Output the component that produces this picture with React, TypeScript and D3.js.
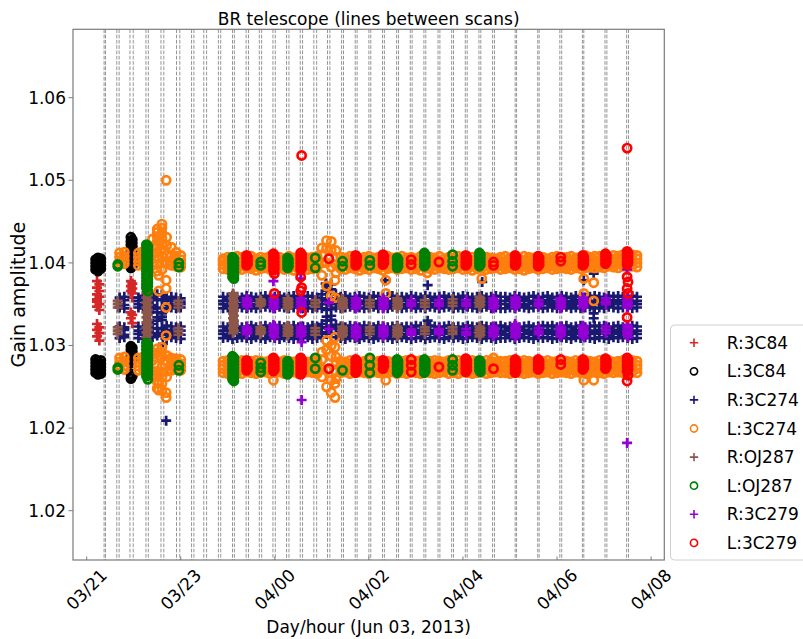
import React, { useMemo } from "react";
import * as d3 from "d3";

const W = 803;
const H = 639;

const xTickValues = [0, 2, 4, 6, 8, 10, 12];
const xTickLabels = ["03/21", "03/23", "04/00", "04/02", "04/04", "04/06", "04/08"];
const yTickValues = [1.01, 1.02, 1.03, 1.04, 1.05, 1.06];
const yTickLabels = ["1.02", "1.02", "1.03", "1.04", "1.05", "1.06"];

// scan boundary times (hours)
const scanEdges = [0.37, 0.40, 0.64, 0.69, 0.92, 0.99, 1.26, 1.31, 1.58, 1.64, 1.91, 1.98, 2.23, 2.28, 2.49, 2.55,
  2.80, 2.85, 3.10, 3.14, 3.39, 3.44, 3.67, 3.72, 3.96, 4.01, 4.25, 4.30, 4.54, 4.59, 4.83, 4.89, 5.12, 5.17,
  5.42, 5.46, 5.71, 5.75, 6.00, 6.04, 6.29, 6.33, 6.59, 6.63, 6.88, 6.92, 7.17, 7.21, 7.47, 7.51, 7.76, 7.80,
  8.05, 8.09, 8.34, 8.38, 8.63, 8.67, 9.11, 9.14, 9.59, 9.62, 10.06, 10.10, 10.54, 10.57, 11.02, 11.06, 11.48, 11.52];

// 3C274 sampling times (hours)
const bandTimes = [0.7, 0.8, 0.9, 1.0, 1.1, 1.2, 1.3, 1.4, 1.5, 1.6, 1.7, 1.8, 1.9, 2.0,
  2.9, 3.0, 3.1, 3.2, 3.3, 3.4, 3.5, 3.6, 3.7, 3.8,
  3.9, 4.0, 4.1, 4.2, 4.3, 4.4, 4.5, 4.6, 4.7, 4.8,
  4.9, 5.0, 5.1, 5.2, 5.3, 5.4, 5.5, 5.6, 5.7, 5.8,
  5.9, 6.0, 6.1, 6.2, 6.3, 6.4, 6.5, 6.6, 6.7, 6.8,
  6.9, 7.0, 7.1, 7.2, 7.3, 7.4, 7.5, 7.6, 7.7, 7.8,
  7.9, 8.0, 8.1, 8.2, 8.3, 8.4, 8.5, 8.6, 8.7, 8.8,
  8.9, 9.0, 9.1, 9.2, 9.3, 9.4, 9.5, 9.6, 9.7, 9.8,
  9.9, 10.0, 10.1, 10.2, 10.3, 10.4, 10.5, 10.6, 10.7, 10.8,
  10.9, 11.0, 11.1, 11.2, 11.3, 11.4, 11.5, 11.6, 11.7];

// L:3C274, upper window, four channels
const l3c274Hi1 = [1.0412, 1.0413, null, null, 1.0412, 1.0414, 1.0417, 1.0429, 1.0441, 1.0447, 1.0431, 1.0419, 1.0413, 1.0409,
  1.0405, 1.0407, 1.0406, 1.0408, 1.0407, 1.0406, 1.0408, 1.0405, 1.0407, 1.0406,
  1.0408, 1.0406, 1.0407, 1.0405, 1.0408, 1.0406, 1.0407, 1.0408, 1.0406, 1.0407,
  1.0408, 1.0418, 1.0427, 1.0426, 1.0415, 1.0407, 1.0406, 1.0408, 1.0407, 1.0405,
  1.0407, 1.0408, 1.0406, 1.0407, 1.0405, 1.0408, 1.0406, 1.0407, 1.0408, 1.0406,
  1.0407, 1.0405, 1.0408, 1.0406, 1.0407, 1.0406, 1.0408, 1.0405, 1.0407, 1.0406,
  1.0408, 1.0407, 1.0405, 1.0407, 1.0406, 1.0408, 1.0407, 1.0406, 1.0405, 1.0407,
  1.0408, 1.0406, 1.0407, 1.0405, 1.0408, 1.0407, 1.0406, 1.0408, 1.0407, 1.0405,
  1.0407, 1.0408, 1.0406, 1.0407, 1.0408, 1.0406, 1.0407, 1.0409, 1.0407, 1.0408,
  1.0408, 1.0409, 1.0407, 1.0409, 1.0408, 1.0410, 1.0409, 1.0410, 1.0409];
const l3c274Hi2 = [1.0407, 1.0408, null, null, 1.0407, 1.0409, 1.0410, 1.0420, 1.0432, 1.0436, 1.0421, 1.0409, 1.0408, 1.0404,
  1.0402, 1.0401, 1.0403, 1.0402, 1.0401, 1.0403, 1.0402, 1.0401, 1.0403, 1.0402,
  1.0401, 1.0403, 1.0402, 1.0401, 1.0402, 1.0403, 1.0401, 1.0402, 1.0403, 1.0401,
  1.0402, 1.0410, 1.0418, 1.0416, 1.0407, 1.0402, 1.0401, 1.0403, 1.0402, 1.0401,
  1.0402, 1.0403, 1.0401, 1.0402, 1.0403, 1.0401, 1.0402, 1.0401, 1.0403, 1.0402,
  1.0401, 1.0403, 1.0402, 1.0401, 1.0403, 1.0402, 1.0401, 1.0402, 1.0403, 1.0401,
  1.0402, 1.0403, 1.0401, 1.0402, 1.0401, 1.0403, 1.0402, 1.0401, 1.0403, 1.0402,
  1.0401, 1.0402, 1.0403, 1.0401, 1.0402, 1.0403, 1.0401, 1.0402, 1.0403, 1.0402,
  1.0403, 1.0402, 1.0401, 1.0403, 1.0402, 1.0403, 1.0402, 1.0403, 1.0404, 1.0402,
  1.0403, 1.0404, 1.0403, 1.0404, 1.0405, 1.0404, 1.0405, 1.0404, 1.0405];
const l3c274Hi3 = [1.0402, 1.0403, null, null, 1.0402, 1.0403, 1.0401, 1.0410, 1.0420, 1.0422, 1.0410, 1.0401, 1.0400, 1.0399,
  1.0398, 1.0397, 1.0399, 1.0398, 1.0397, 1.0399, 1.0398, 1.0396, 1.0398, 1.0399,
  1.0397, 1.0398, 1.0399, 1.0397, 1.0398, 1.0397, 1.0398, 1.0399, 1.0397, 1.0398,
  1.0399, 1.0400, 1.0400, 1.0395, 1.0398, 1.0398, 1.0397, 1.0399, 1.0398, 1.0397,
  1.0398, 1.0397, 1.0399, 1.0398, 1.0397, 1.0398, 1.0399, 1.0397, 1.0398, 1.0399,
  1.0397, 1.0398, 1.0397, 1.0399, 1.0398, 1.0397, 1.0399, 1.0398, 1.0397, 1.0398,
  1.0399, 1.0397, 1.0398, 1.0397, 1.0398, 1.0399, 1.0397, 1.0398, 1.0399, 1.0397,
  1.0398, 1.0399, 1.0397, 1.0398, 1.0397, 1.0398, 1.0399, 1.0397, 1.0398, 1.0399,
  1.0397, 1.0398, 1.0399, 1.0398, 1.0397, 1.0399, 1.0398, 1.0399, 1.0400, 1.0399,
  1.0400, 1.0399, 1.0401, 1.0400, 1.0399, 1.0401, 1.0400, 1.0401, 1.0400];
const l3c274Hi4 = [1.0398, 1.0399, null, null, 1.0397, 1.0398, 1.0396, 1.0400, 1.0405, 1.0408, 1.0399, 1.0397, 1.0396, 1.0395,
  1.0393, 1.0392, 1.0394, 1.0393, 1.0392, 1.0394, 1.0393, 1.0391, 1.0393, 1.0394,
  1.0392, 1.0393, 1.0394, 1.0392, 1.0393, 1.0391, 1.0393, 1.0394, 1.0392, 1.0393,
  1.0394, 1.0385, 1.0372, 1.0360, 1.0388, 1.0393, 1.0392, 1.0394, 1.0393, 1.0391,
  1.0393, 1.0392, 1.0394, 1.0393, 1.0391, 1.0393, 1.0394, 1.0392, 1.0393, 1.0394,
  1.0392, 1.0393, 1.0391, 1.0394, 1.0393, 1.0392, 1.0394, 1.0393, 1.0392, 1.0393,
  1.0394, 1.0392, 1.0393, 1.0391, 1.0393, 1.0394, 1.0392, 1.0393, 1.0394, 1.0392,
  1.0393, 1.0394, 1.0392, 1.0393, 1.0391, 1.0393, 1.0394, 1.0392, 1.0393, 1.0394,
  1.0392, 1.0393, 1.0394, 1.0393, 1.0392, 1.0394, 1.0393, 1.0394, 1.0395, 1.0394,
  1.0395, 1.0394, 1.0396, 1.0395, 1.0394, 1.0396, 1.0395, 1.0396, 1.0395];

// L:3C274, lower window, four channels
const l3c274Lo1 = [1.0285, 1.0286, null, null, 1.0285, 1.0286, 1.0284, 1.0290, 1.0296, 1.0298, 1.0288, 1.0285, 1.0284, 1.0283,
  1.0281, 1.0282, 1.0280, 1.0281, 1.0282, 1.0280, 1.0281, 1.0282, 1.0281, 1.0280,
  1.0282, 1.0281, 1.0280, 1.0282, 1.0281, 1.0280, 1.0282, 1.0281, 1.0280, 1.0281,
  1.0282, 1.0292, 1.0306, 1.0300, 1.0286, 1.0281, 1.0280, 1.0282, 1.0281, 1.0280,
  1.0281, 1.0282, 1.0280, 1.0281, 1.0282, 1.0281, 1.0280, 1.0282, 1.0281, 1.0282,
  1.0280, 1.0281, 1.0282, 1.0280, 1.0281, 1.0282, 1.0281, 1.0280, 1.0282, 1.0281,
  1.0282, 1.0280, 1.0281, 1.0282, 1.0281, 1.0280, 1.0282, 1.0281, 1.0280, 1.0281,
  1.0281, 1.0282, 1.0280, 1.0281, 1.0282, 1.0281, 1.0280, 1.0282, 1.0281, 1.0282,
  1.0280, 1.0281, 1.0282, 1.0281, 1.0280, 1.0282, 1.0281, 1.0282, 1.0281, 1.0280,
  1.0282, 1.0281, 1.0282, 1.0280, 1.0281, 1.0282, 1.0281, 1.0282, 1.0281];
const l3c274Lo2 = [1.0280, 1.0281, null, null, 1.0280, 1.0281, 1.0279, 1.0282, 1.0285, 1.0286, 1.0281, 1.0280, 1.0279, 1.0278,
  1.0276, 1.0277, 1.0275, 1.0276, 1.0277, 1.0275, 1.0276, 1.0277, 1.0276, 1.0275,
  1.0277, 1.0276, 1.0275, 1.0277, 1.0276, 1.0275, 1.0277, 1.0276, 1.0275, 1.0276,
  1.0277, 1.0283, 1.0295, 1.0287, 1.0280, 1.0276, 1.0275, 1.0277, 1.0276, 1.0275,
  1.0276, 1.0277, 1.0275, 1.0276, 1.0277, 1.0276, 1.0275, 1.0277, 1.0276, 1.0277,
  1.0275, 1.0276, 1.0277, 1.0275, 1.0276, 1.0277, 1.0276, 1.0275, 1.0277, 1.0276,
  1.0277, 1.0275, 1.0276, 1.0277, 1.0276, 1.0275, 1.0277, 1.0276, 1.0275, 1.0276,
  1.0276, 1.0277, 1.0275, 1.0276, 1.0277, 1.0276, 1.0275, 1.0277, 1.0276, 1.0277,
  1.0275, 1.0276, 1.0277, 1.0276, 1.0275, 1.0277, 1.0276, 1.0277, 1.0276, 1.0275,
  1.0277, 1.0276, 1.0277, 1.0275, 1.0276, 1.0277, 1.0276, 1.0277, 1.0276];
const l3c274Lo3 = [1.0276, 1.0275, null, null, 1.0275, 1.0276, 1.0273, 1.0268, 1.0264, 1.0262, 1.0269, 1.0275, 1.0276, 1.0275,
  1.0272, 1.0271, 1.0273, 1.0272, 1.0271, 1.0273, 1.0272, 1.0271, 1.0272, 1.0273,
  1.0271, 1.0272, 1.0273, 1.0271, 1.0272, 1.0273, 1.0271, 1.0272, 1.0273, 1.0272,
  1.0271, 1.0272, 1.0270, 1.0258, 1.0268, 1.0272, 1.0273, 1.0271, 1.0272, 1.0273,
  1.0272, 1.0271, 1.0273, 1.0272, 1.0271, 1.0272, 1.0273, 1.0271, 1.0272, 1.0271,
  1.0273, 1.0272, 1.0271, 1.0273, 1.0272, 1.0271, 1.0272, 1.0273, 1.0271, 1.0272,
  1.0271, 1.0273, 1.0272, 1.0271, 1.0272, 1.0273, 1.0271, 1.0272, 1.0273, 1.0272,
  1.0272, 1.0271, 1.0273, 1.0272, 1.0271, 1.0272, 1.0273, 1.0271, 1.0272, 1.0273,
  1.0271, 1.0272, 1.0273, 1.0272, 1.0271, 1.0273, 1.0272, 1.0271, 1.0272, 1.0273,
  1.0272, 1.0271, 1.0273, 1.0272, 1.0273, 1.0272, 1.0271, 1.0273, 1.0272];
const l3c274Lo4 = [1.0272, 1.0271, null, null, 1.0270, 1.0271, 1.0268, 1.0262, 1.0256, 1.0254, 1.0262, 1.0270, 1.0271, 1.0270,
  1.0267, 1.0266, 1.0268, 1.0267, 1.0266, 1.0268, 1.0267, 1.0266, 1.0267, 1.0268,
  1.0266, 1.0267, 1.0268, 1.0266, 1.0267, 1.0268, 1.0266, 1.0267, 1.0268, 1.0267,
  1.0266, 1.0262, 1.0250, 1.0243, 1.0260, 1.0267, 1.0268, 1.0266, 1.0267, 1.0268,
  1.0267, 1.0266, 1.0268, 1.0267, 1.0266, 1.0267, 1.0268, 1.0266, 1.0267, 1.0266,
  1.0268, 1.0267, 1.0266, 1.0268, 1.0267, 1.0266, 1.0267, 1.0268, 1.0266, 1.0267,
  1.0266, 1.0268, 1.0267, 1.0266, 1.0267, 1.0268, 1.0266, 1.0267, 1.0268, 1.0267,
  1.0267, 1.0266, 1.0268, 1.0267, 1.0266, 1.0267, 1.0268, 1.0266, 1.0267, 1.0268,
  1.0266, 1.0267, 1.0268, 1.0267, 1.0266, 1.0268, 1.0267, 1.0266, 1.0267, 1.0268,
  1.0267, 1.0266, 1.0268, 1.0267, 1.0268, 1.0267, 1.0266, 1.0268, 1.0267];

// R:3C274, upper window, four channels
const r3c274Hi1 = [1.0358, 1.0359, null, null, 1.0358, 1.0360, 1.0358, 1.0359, 1.0362, 1.0361, 1.0358, 1.0359, 1.0358, 1.0357,
  1.0359, 1.0358, 1.0360, 1.0359, 1.0358, 1.0360, 1.0359, 1.0358, 1.0359, 1.0360,
  1.0358, 1.0359, 1.0360, 1.0358, 1.0359, 1.0360, 1.0358, 1.0359, 1.0360, 1.0359,
  1.0358, 1.0362, 1.0372, 1.0374, 1.0362, 1.0359, 1.0360, 1.0358, 1.0359, 1.0360,
  1.0359, 1.0358, 1.0360, 1.0359, 1.0358, 1.0359, 1.0360, 1.0358, 1.0359, 1.0358,
  1.0360, 1.0359, 1.0358, 1.0360, 1.0359, 1.0358, 1.0359, 1.0360, 1.0358, 1.0359,
  1.0358, 1.0360, 1.0359, 1.0358, 1.0359, 1.0360, 1.0358, 1.0359, 1.0360, 1.0359,
  1.0359, 1.0358, 1.0360, 1.0359, 1.0358, 1.0359, 1.0360, 1.0358, 1.0359, 1.0360,
  1.0358, 1.0359, 1.0360, 1.0359, 1.0358, 1.0360, 1.0359, 1.0358, 1.0359, 1.0360,
  1.0359, 1.0358, 1.0360, 1.0359, 1.0360, 1.0359, 1.0358, 1.0360, 1.0359];
const r3c274Hi2 = [1.0354, 1.0355, null, null, 1.0354, 1.0355, 1.0354, 1.0355, 1.0356, 1.0355, 1.0354, 1.0355, 1.0354, 1.0353,
  1.0354, 1.0355, 1.0353, 1.0354, 1.0355, 1.0353, 1.0354, 1.0355, 1.0354, 1.0353,
  1.0355, 1.0354, 1.0353, 1.0355, 1.0354, 1.0353, 1.0355, 1.0354, 1.0353, 1.0354,
  1.0355, 1.0357, 1.0366, 1.0368, 1.0357, 1.0354, 1.0353, 1.0355, 1.0354, 1.0353,
  1.0354, 1.0355, 1.0353, 1.0354, 1.0355, 1.0354, 1.0353, 1.0355, 1.0354, 1.0355,
  1.0353, 1.0354, 1.0355, 1.0353, 1.0354, 1.0355, 1.0354, 1.0353, 1.0355, 1.0354,
  1.0355, 1.0353, 1.0354, 1.0355, 1.0354, 1.0353, 1.0355, 1.0354, 1.0353, 1.0354,
  1.0354, 1.0355, 1.0353, 1.0354, 1.0355, 1.0354, 1.0353, 1.0355, 1.0354, 1.0355,
  1.0353, 1.0354, 1.0355, 1.0354, 1.0353, 1.0355, 1.0354, 1.0355, 1.0354, 1.0353,
  1.0355, 1.0354, 1.0353, 1.0355, 1.0354, 1.0355, 1.0354, 1.0353, 1.0354];
const r3c274Hi3 = [1.0350, 1.0349, null, null, 1.0350, 1.0349, 1.0350, 1.0349, 1.0346, 1.0345, 1.0349, 1.0350, 1.0349, 1.0350,
  1.0350, 1.0349, 1.0351, 1.0350, 1.0349, 1.0351, 1.0350, 1.0349, 1.0350, 1.0351,
  1.0349, 1.0350, 1.0351, 1.0349, 1.0350, 1.0351, 1.0349, 1.0350, 1.0351, 1.0350,
  1.0349, 1.0350, 1.0354, 1.0356, 1.0350, 1.0350, 1.0351, 1.0349, 1.0350, 1.0351,
  1.0350, 1.0349, 1.0351, 1.0350, 1.0349, 1.0350, 1.0351, 1.0349, 1.0350, 1.0349,
  1.0351, 1.0350, 1.0349, 1.0351, 1.0350, 1.0349, 1.0350, 1.0351, 1.0349, 1.0350,
  1.0349, 1.0351, 1.0350, 1.0349, 1.0350, 1.0351, 1.0349, 1.0350, 1.0351, 1.0350,
  1.0350, 1.0349, 1.0351, 1.0350, 1.0349, 1.0350, 1.0351, 1.0349, 1.0350, 1.0351,
  1.0349, 1.0350, 1.0351, 1.0350, 1.0349, 1.0351, 1.0350, 1.0349, 1.0350, 1.0351,
  1.0350, 1.0349, 1.0351, 1.0350, 1.0351, 1.0350, 1.0349, 1.0351, 1.0350];
const r3c274Hi4 = [1.0346, 1.0345, null, null, 1.0346, 1.0345, 1.0346, 1.0344, 1.0340, 1.0339, 1.0345, 1.0346, 1.0345, 1.0346,
  1.0345, 1.0346, 1.0345, 1.0347, 1.0346, 1.0345, 1.0346, 1.0345, 1.0346, 1.0347,
  1.0346, 1.0345, 1.0347, 1.0346, 1.0345, 1.0346, 1.0347, 1.0345, 1.0346, 1.0345,
  1.0346, 1.0345, 1.0343, 1.0344, 1.0346, 1.0345, 1.0346, 1.0347, 1.0345, 1.0346,
  1.0345, 1.0346, 1.0347, 1.0345, 1.0346, 1.0345, 1.0347, 1.0346, 1.0345, 1.0346,
  1.0347, 1.0345, 1.0346, 1.0345, 1.0347, 1.0346, 1.0345, 1.0346, 1.0347, 1.0345,
  1.0346, 1.0345, 1.0347, 1.0346, 1.0345, 1.0346, 1.0347, 1.0345, 1.0346, 1.0345,
  1.0345, 1.0346, 1.0345, 1.0347, 1.0346, 1.0345, 1.0346, 1.0347, 1.0345, 1.0346,
  1.0346, 1.0345, 1.0346, 1.0347, 1.0345, 1.0346, 1.0345, 1.0346, 1.0347, 1.0345,
  1.0346, 1.0345, 1.0347, 1.0346, 1.0345, 1.0346, 1.0347, 1.0345, 1.0346];

// R:3C274, lower window, four channels
const r3c274Lo1 = [1.0323, 1.0322, null, null, 1.0323, 1.0322, 1.0323, 1.0326, 1.0334, 1.0335, 1.0324, 1.0323, 1.0322, 1.0323,
  1.0323, 1.0322, 1.0324, 1.0323, 1.0322, 1.0323, 1.0324, 1.0322, 1.0323, 1.0324,
  1.0322, 1.0323, 1.0324, 1.0322, 1.0323, 1.0324, 1.0322, 1.0323, 1.0322, 1.0324,
  1.0323, 1.0326, 1.0335, 1.0336, 1.0325, 1.0323, 1.0322, 1.0324, 1.0323, 1.0322,
  1.0324, 1.0323, 1.0322, 1.0324, 1.0323, 1.0322, 1.0323, 1.0324, 1.0322, 1.0323,
  1.0322, 1.0324, 1.0323, 1.0322, 1.0324, 1.0323, 1.0322, 1.0323, 1.0324, 1.0322,
  1.0323, 1.0322, 1.0324, 1.0323, 1.0322, 1.0324, 1.0323, 1.0322, 1.0323, 1.0324,
  1.0322, 1.0323, 1.0324, 1.0322, 1.0323, 1.0324, 1.0322, 1.0323, 1.0324, 1.0323,
  1.0324, 1.0322, 1.0323, 1.0324, 1.0322, 1.0323, 1.0324, 1.0322, 1.0323, 1.0324,
  1.0323, 1.0324, 1.0322, 1.0323, 1.0324, 1.0322, 1.0323, 1.0324, 1.0323];
const r3c274Lo2 = [1.0318, 1.0319, null, null, 1.0318, 1.0317, 1.0318, 1.0321, 1.0330, 1.0331, 1.0319, 1.0318, 1.0317, 1.0318,
  1.0318, 1.0319, 1.0317, 1.0318, 1.0319, 1.0318, 1.0317, 1.0319, 1.0318, 1.0317,
  1.0319, 1.0318, 1.0317, 1.0319, 1.0318, 1.0317, 1.0319, 1.0318, 1.0319, 1.0317,
  1.0318, 1.0321, 1.0330, 1.0331, 1.0320, 1.0318, 1.0317, 1.0319, 1.0318, 1.0317,
  1.0319, 1.0318, 1.0317, 1.0319, 1.0318, 1.0319, 1.0317, 1.0318, 1.0319, 1.0318,
  1.0317, 1.0318, 1.0319, 1.0317, 1.0318, 1.0319, 1.0318, 1.0317, 1.0319, 1.0318,
  1.0319, 1.0317, 1.0318, 1.0319, 1.0318, 1.0317, 1.0319, 1.0318, 1.0317, 1.0318,
  1.0318, 1.0319, 1.0317, 1.0318, 1.0319, 1.0318, 1.0317, 1.0319, 1.0318, 1.0319,
  1.0317, 1.0318, 1.0319, 1.0318, 1.0317, 1.0319, 1.0318, 1.0319, 1.0318, 1.0317,
  1.0319, 1.0318, 1.0317, 1.0319, 1.0318, 1.0319, 1.0318, 1.0317, 1.0318];
const r3c274Lo3 = [1.0314, 1.0313, null, null, 1.0314, 1.0313, 1.0314, 1.0315, 1.0320, 1.0321, 1.0314, 1.0313, 1.0314, 1.0313,
  1.0314, 1.0313, 1.0315, 1.0314, 1.0313, 1.0314, 1.0315, 1.0313, 1.0314, 1.0315,
  1.0313, 1.0314, 1.0315, 1.0313, 1.0314, 1.0315, 1.0313, 1.0314, 1.0313, 1.0315,
  1.0314, 1.0316, 1.0322, 1.0323, 1.0315, 1.0314, 1.0313, 1.0315, 1.0314, 1.0313,
  1.0315, 1.0314, 1.0313, 1.0315, 1.0314, 1.0313, 1.0314, 1.0315, 1.0313, 1.0314,
  1.0313, 1.0315, 1.0314, 1.0313, 1.0315, 1.0314, 1.0313, 1.0314, 1.0315, 1.0313,
  1.0314, 1.0313, 1.0315, 1.0314, 1.0313, 1.0315, 1.0314, 1.0313, 1.0314, 1.0315,
  1.0313, 1.0314, 1.0315, 1.0313, 1.0314, 1.0315, 1.0313, 1.0314, 1.0315, 1.0314,
  1.0315, 1.0313, 1.0314, 1.0315, 1.0313, 1.0314, 1.0315, 1.0313, 1.0314, 1.0315,
  1.0314, 1.0315, 1.0313, 1.0314, 1.0315, 1.0313, 1.0314, 1.0315, 1.0314];
const r3c274Lo4 = [1.0309, 1.0310, null, null, 1.0309, 1.0308, 1.0309, 1.0310, 1.0312, 1.0313, 1.0309, 1.0310, 1.0309, 1.0308,
  1.0309, 1.0310, 1.0308, 1.0309, 1.0310, 1.0309, 1.0308, 1.0310, 1.0309, 1.0308,
  1.0310, 1.0309, 1.0308, 1.0310, 1.0309, 1.0308, 1.0310, 1.0309, 1.0310, 1.0308,
  1.0309, 1.0310, 1.0314, 1.0315, 1.0310, 1.0309, 1.0308, 1.0310, 1.0309, 1.0308,
  1.0310, 1.0309, 1.0308, 1.0310, 1.0309, 1.0310, 1.0308, 1.0309, 1.0310, 1.0309,
  1.0308, 1.0309, 1.0310, 1.0308, 1.0309, 1.0310, 1.0309, 1.0308, 1.0310, 1.0309,
  1.0310, 1.0308, 1.0309, 1.0310, 1.0309, 1.0308, 1.0310, 1.0309, 1.0308, 1.0309,
  1.0309, 1.0310, 1.0308, 1.0309, 1.0310, 1.0309, 1.0308, 1.0310, 1.0309, 1.0310,
  1.0308, 1.0309, 1.0310, 1.0309, 1.0308, 1.0310, 1.0309, 1.0310, 1.0309, 1.0308,
  1.0310, 1.0309, 1.0308, 1.0310, 1.0309, 1.0310, 1.0309, 1.0308, 1.0309];

type Scan = [number, number[]];

const r3c84Scans: Scan[] = [
  [0.22, [1.0378, 1.0370, 1.0362, 1.0356, 1.0353, 1.0347, 1.0326, 1.0319, 1.0311]],
  [0.27, [1.0374, 1.0366, 1.0359, 1.0350, 1.0343, 1.0322, 1.0315, 1.0306]],
  [0.94, [1.0378, 1.0372, 1.0366, 1.0340, 1.0333]],
  [0.97, [1.0375, 1.0369, 1.0363, 1.0358, 1.0337, 1.0327]],
];
const l3c84Scans: Scan[] = [
  [0.19, [1.0404, 1.0400, 1.0396, 1.0392, 1.0283, 1.0279, 1.0275, 1.0271, 1.0267]],
  [0.24, [1.0406, 1.0402, 1.0398, 1.0394, 1.0390, 1.0281, 1.0277, 1.0273, 1.0269, 1.0265]],
  [0.30, [1.0405, 1.0401, 1.0397, 1.0393, 1.0282, 1.0278, 1.0274, 1.0270, 1.0266]],
  [0.94, [1.0431, 1.0426, 1.0422, 1.0418, 1.0414, 1.0410, 1.0406, 1.0402, 1.0398, 1.0394,
    1.0299, 1.0295, 1.0291, 1.0287, 1.0283, 1.0279, 1.0266, 1.0260]],
  [0.97, [1.0428, 1.0424, 1.0420, 1.0416, 1.0412, 1.0408, 1.0404, 1.0400, 1.0396,
    1.0297, 1.0293, 1.0289, 1.0285, 1.0281, 1.0263]],
];
const r3c274Extra: Scan[] = [
  [1.52, [1.0315]], [1.62, [1.0302]], [1.69, [1.0209]], [5.08, [1.0375]], [6.35, [1.0379]],
  [7.25, [1.0373, 1.0330]], [8.41, [1.0377]], [10.57, [1.0379]], [10.78, [1.0387, 1.0339, 1.0333]],
];
const l3c274Extra: Scan[] = [
  [1.50, [1.0437, 1.0426, 1.0413, 1.0398, 1.0390, 1.0291, 1.0275, 1.0269, 1.0248]],
  [1.60, [1.0442, 1.0430, 1.0416, 1.0400, 1.0392, 1.0292, 1.0274, 1.0268, 1.0246]],
  [1.53, [1.0385, 1.0366, 1.0254, 1.0246]],
  [1.69, [1.0500, 1.0379, 1.0369, 1.0346, 1.0312, 1.0243, 1.0237]],
  [3.97, [1.0258]],
  [5.28, [1.0379, 1.0358, 1.0310, 1.0298, 1.0254, 1.0237]],
  [6.36, [1.0379, 1.0363, 1.0258]],
  [7.24, [1.0388]],
  [8.40, [1.0381]],
  [8.65, [1.0285]],
  [10.57, [1.0381, 1.0363, 1.0258]],
  [10.78, [1.0376, 1.0354, 1.0258]],
];
const rOJ287Scans: Scan[] = [
  [0.66, [1.0354, 1.0350, 1.0346, 1.0322, 1.0318, 1.0314]],
  [1.27, [1.0370, 1.0364, 1.0358, 1.0352, 1.0346, 1.0340, 1.0334, 1.0328, 1.0322, 1.0316, 1.0310]],
  [1.30, [1.0367, 1.0361, 1.0355, 1.0349, 1.0343, 1.0337, 1.0331, 1.0325, 1.0319, 1.0313]],
  [1.95, [1.0354, 1.0350, 1.0346, 1.0321, 1.0317, 1.0313]],
  [3.11, [1.0363, 1.0357, 1.0351, 1.0345, 1.0339, 1.0333, 1.0327, 1.0321, 1.0315]],
  [3.13, [1.0360, 1.0354, 1.0348, 1.0342, 1.0336, 1.0330, 1.0324, 1.0318]],
  [3.69, [1.0356, 1.0352, 1.0348, 1.0322, 1.0318, 1.0314]],
  [3.71, [1.0354, 1.0350, 1.0320, 1.0316]],
  [4.27, [1.0357, 1.0353, 1.0349, 1.0345, 1.0324, 1.0320, 1.0316, 1.0312]],
  [4.29, [1.0355, 1.0351, 1.0347, 1.0322, 1.0318, 1.0314]],
  [4.86, [1.0355, 1.0351, 1.0347, 1.0321, 1.0317, 1.0313]],
  [5.43, [1.0357, 1.0353, 1.0349, 1.0345, 1.0323, 1.0319, 1.0315, 1.0311]],
  [5.45, [1.0355, 1.0351, 1.0347, 1.0321, 1.0317, 1.0313]],
  [6.02, [1.0355, 1.0351, 1.0347, 1.0322, 1.0318, 1.0314]],
  [6.60, [1.0357, 1.0353, 1.0349, 1.0345, 1.0323, 1.0319, 1.0315, 1.0311]],
  [6.62, [1.0355, 1.0351, 1.0347, 1.0321, 1.0317, 1.0313]],
  [7.19, [1.0355, 1.0351, 1.0347, 1.0322, 1.0318, 1.0314]],
  [7.78, [1.0356, 1.0352, 1.0348, 1.0322, 1.0318, 1.0314]],
  [8.35, [1.0359, 1.0355, 1.0351, 1.0347, 1.0323, 1.0319, 1.0315, 1.0311]],
  [8.37, [1.0357, 1.0353, 1.0349, 1.0321, 1.0317, 1.0313]],
];
const lOJ287Scans: Scan[] = [
  [0.66, [1.0398, 1.0396, 1.0273, 1.0271]],
  [1.27, [1.0422, 1.0418, 1.0414, 1.0410, 1.0406, 1.0402, 1.0398, 1.0394, 1.0390, 1.0386, 1.0382, 1.0378, 1.0374, 1.0370,
    1.0303, 1.0299, 1.0295, 1.0291, 1.0287, 1.0283, 1.0279, 1.0275, 1.0271, 1.0267, 1.0263]],
  [1.30, [1.0420, 1.0416, 1.0412, 1.0408, 1.0404, 1.0400, 1.0396, 1.0392, 1.0388, 1.0384, 1.0380, 1.0376, 1.0372, 1.0366,
    1.0301, 1.0297, 1.0293, 1.0289, 1.0285, 1.0281, 1.0277, 1.0273, 1.0269, 1.0265, 1.0259]],
  [1.96, [1.0400, 1.0395, 1.0276, 1.0270]],
  [3.10, [1.0407, 1.0403, 1.0399, 1.0395, 1.0391, 1.0387, 1.0383, 1.0287, 1.0283, 1.0279, 1.0275, 1.0271, 1.0267, 1.0263, 1.0259]],
  [3.13, [1.0405, 1.0401, 1.0397, 1.0393, 1.0389, 1.0385, 1.0381, 1.0285, 1.0281, 1.0277, 1.0273, 1.0269, 1.0265, 1.0261, 1.0257]],
  [3.70, [1.0401, 1.0397, 1.0279, 1.0273, 1.0268]],
  [4.27, [1.0406, 1.0402, 1.0398, 1.0394, 1.0281, 1.0277, 1.0273, 1.0269, 1.0265]],
  [4.29, [1.0404, 1.0400, 1.0396, 1.0279, 1.0275, 1.0271, 1.0267]],
  [4.86, [1.0406, 1.0394, 1.0285, 1.0272]],
  [5.44, [1.0402, 1.0396, 1.0270]],
  [6.02, [1.0403, 1.0397, 1.0285, 1.0276, 1.0267]],
  [6.60, [1.0406, 1.0402, 1.0398, 1.0394, 1.0283, 1.0279, 1.0275, 1.0271, 1.0267]],
  [6.62, [1.0404, 1.0400, 1.0396, 1.0281, 1.0277, 1.0273, 1.0269]],
  [7.18, [1.0412, 1.0408, 1.0404, 1.0400, 1.0396, 1.0283, 1.0279, 1.0275, 1.0271, 1.0267]],
  [7.20, [1.0410, 1.0406, 1.0402, 1.0398, 1.0281, 1.0277, 1.0273, 1.0269]],
  [7.78, [1.0410, 1.0402, 1.0396, 1.0283, 1.0276, 1.0270]],
  [8.35, [1.0412, 1.0408, 1.0404, 1.0400, 1.0396, 1.0282, 1.0278, 1.0274, 1.0270]],
  [8.37, [1.0410, 1.0406, 1.0402, 1.0398, 1.0280, 1.0276, 1.0272, 1.0268]],
];
const r3c279Scans: Scan[] = [
  [3.40, [1.0357, 1.0353, 1.0349, 1.0322, 1.0318, 1.0314]],
  [3.42, [1.0355, 1.0351, 1.0347, 1.0320, 1.0316]],
  [3.97, [1.0378, 1.0357, 1.0353, 1.0349, 1.0345, 1.0325, 1.0321, 1.0317, 1.0313]],
  [3.99, [1.0355, 1.0351, 1.0347, 1.0323, 1.0319, 1.0315, 1.0310]],
  [4.55, [1.0381, 1.0357, 1.0353, 1.0349, 1.0345, 1.0323, 1.0319, 1.0315, 1.0311]],
  [4.57, [1.0355, 1.0351, 1.0347, 1.0321, 1.0317, 1.0313, 1.0304, 1.0234]],
  [5.15, [1.0352, 1.0320]],
  [5.72, [1.0357, 1.0353, 1.0349, 1.0345, 1.0323, 1.0319, 1.0315, 1.0311]],
  [5.74, [1.0355, 1.0351, 1.0347, 1.0321, 1.0317, 1.0313, 1.0310]],
  [6.30, [1.0357, 1.0353, 1.0349, 1.0345, 1.0323, 1.0319, 1.0315, 1.0311]],
  [6.32, [1.0355, 1.0351, 1.0347, 1.0321, 1.0317, 1.0313]],
  [6.90, [1.0355, 1.0351, 1.0348, 1.0319, 1.0316, 1.0313]],
  [7.49, [1.0355, 1.0351, 1.0348, 1.0320, 1.0317, 1.0314]],
  [8.07, [1.0355, 1.0351, 1.0348, 1.0320, 1.0316, 1.0313]],
  [8.64, [1.0357, 1.0353, 1.0349, 1.0345, 1.0323, 1.0319, 1.0315, 1.0311]],
  [8.66, [1.0355, 1.0351, 1.0347, 1.0321, 1.0317, 1.0313]],
  [9.11, [1.0358, 1.0354, 1.0350, 1.0346, 1.0326, 1.0322, 1.0318, 1.0314, 1.0310]],
  [9.13, [1.0356, 1.0352, 1.0348, 1.0324, 1.0320, 1.0316, 1.0312]],
  [9.61, [1.0355, 1.0351, 1.0348, 1.0321, 1.0317, 1.0314]],
  [10.07, [1.0357, 1.0353, 1.0349, 1.0345, 1.0323, 1.0319, 1.0315, 1.0311]],
  [10.09, [1.0355, 1.0351, 1.0347, 1.0321, 1.0317, 1.0313]],
  [10.55, [1.0358, 1.0354, 1.0350, 1.0346, 1.0324, 1.0320, 1.0316, 1.0312]],
  [10.57, [1.0356, 1.0352, 1.0348, 1.0322, 1.0318, 1.0314, 1.0310]],
  [11.04, [1.0357, 1.0353, 1.0350, 1.0323, 1.0319, 1.0315]],
  [11.49, [1.0398, 1.0392, 1.0358, 1.0354, 1.0350, 1.0346, 1.0325, 1.0321, 1.0317, 1.0313, 1.0182]],
  [11.51, [1.0356, 1.0352, 1.0348, 1.0323, 1.0319, 1.0315, 1.0310]],
];
const l3c279Scans: Scan[] = [
  [3.40, [1.0409, 1.0405, 1.0401, 1.0397, 1.0282, 1.0278, 1.0274, 1.0270]],
  [3.42, [1.0407, 1.0403, 1.0399, 1.0280, 1.0276, 1.0272]],
  [3.97, [1.0411, 1.0407, 1.0403, 1.0399, 1.0395, 1.0391, 1.0285, 1.0281, 1.0277, 1.0273, 1.0269]],
  [3.99, [1.0409, 1.0405, 1.0401, 1.0397, 1.0393, 1.0387, 1.0363, 1.0283, 1.0279, 1.0275, 1.0271]],
  [4.55, [1.0412, 1.0408, 1.0404, 1.0400, 1.0396, 1.0392, 1.0383, 1.0366, 1.0285, 1.0281, 1.0277, 1.0273, 1.0269, 1.0265]],
  [4.57, [1.0530, 1.0410, 1.0406, 1.0402, 1.0398, 1.0394, 1.0370, 1.0340, 1.0283, 1.0279, 1.0275, 1.0271, 1.0267]],
  [5.15, [1.0405, 1.0272]],
  [5.72, [1.0409, 1.0405, 1.0401, 1.0397, 1.0283, 1.0279, 1.0275, 1.0271, 1.0267]],
  [5.74, [1.0407, 1.0403, 1.0399, 1.0281, 1.0277, 1.0273, 1.0269]],
  [6.30, [1.0410, 1.0406, 1.0402, 1.0398, 1.0282, 1.0277, 1.0272]],
  [6.32, [1.0408, 1.0404, 1.0400, 1.0280, 1.0275]],
  [6.90, [1.0404, 1.0398, 1.0283, 1.0276, 1.0268]],
  [7.49, [1.0401, 1.0274]],
  [8.06, [1.0409, 1.0405, 1.0401, 1.0397, 1.0284, 1.0280, 1.0276, 1.0272, 1.0268]],
  [8.08, [1.0407, 1.0403, 1.0399, 1.0282, 1.0278, 1.0274, 1.0270]],
  [8.65, [1.0401, 1.0397, 1.0272]],
  [9.11, [1.0409, 1.0405, 1.0401, 1.0397, 1.0283, 1.0279, 1.0275, 1.0271, 1.0267]],
  [9.13, [1.0407, 1.0403, 1.0399, 1.0281, 1.0277, 1.0273, 1.0269]],
  [9.60, [1.0408, 1.0404, 1.0400, 1.0396, 1.0283, 1.0279, 1.0275, 1.0271]],
  [9.62, [1.0406, 1.0402, 1.0398, 1.0281, 1.0277, 1.0273]],
  [10.08, [1.0407, 1.0402, 1.0283, 1.0277]],
  [10.55, [1.0409, 1.0405, 1.0401, 1.0397, 1.0283, 1.0279, 1.0275, 1.0271]],
  [10.57, [1.0407, 1.0403, 1.0399, 1.0281, 1.0277, 1.0273]],
  [11.03, [1.0411, 1.0407, 1.0403, 1.0399, 1.0284, 1.0280, 1.0276, 1.0272]],
  [11.05, [1.0409, 1.0405, 1.0401, 1.0282, 1.0278, 1.0274]],
  [11.49, [1.0539, 1.0414, 1.0410, 1.0406, 1.0402, 1.0398, 1.0383, 1.0369, 1.0334, 1.0285, 1.0281, 1.0277, 1.0273, 1.0269, 1.0257]],
  [11.51, [1.0412, 1.0408, 1.0404, 1.0400, 1.0377, 1.0363, 1.0283, 1.0279, 1.0275, 1.0271, 1.0264]],
];

const seriesNames = ["R:3C84", "L:3C84", "R:3C274", "L:3C274", "R:OJ287", "L:OJ287", "R:3C279", "L:3C279"];
const seriesColors = ["#d62728", "#000000", "#191970", "#ff7f0e", "#8c564b", "#008000", "#9400d3", "#ff0000"];
const seriesMarkers = ["+", "o", "+", "o", "+", "o", "+", "o"];

type Pt = [number, number];

function fromScans(scans: Scan[]): Pt[] {
  const out: Pt[] = [];
  scans.forEach(([t, vals]) => vals.forEach((v) => out.push([t, v])));
  return out;
}
function fromChannels(chs: (number | null)[][]): Pt[] {
  const out: Pt[] = [];
  chs.forEach((ch) => ch.forEach((v, i) => { if (v !== null) out.push([bandTimes[i], v]); }));
  return out;
}

const margin = { left: 73, top: 29.3, right: 664.3, bottom: 560 };

export default function App() {
  const x = d3.scaleLinear().domain([-0.291, 12.281]).range([margin.left, margin.right]);
  const y = d3.scaleLinear().domain([1.004031, 1.068281]).range([margin.bottom, margin.top]);

  const seriesPoints: Pt[][] = useMemo(() => [
    fromScans(r3c84Scans),
    fromScans(l3c84Scans),
    [...fromChannels([r3c274Hi1, r3c274Hi2, r3c274Hi3, r3c274Hi4, r3c274Lo1, r3c274Lo2, r3c274Lo3, r3c274Lo4]), ...fromScans(r3c274Extra)],
    [...fromChannels([l3c274Hi1, l3c274Hi2, l3c274Hi3, l3c274Hi4, l3c274Lo1, l3c274Lo2, l3c274Lo3, l3c274Lo4]), ...fromScans(l3c274Extra)],
    fromScans(rOJ287Scans),
    fromScans(lOJ287Scans),
    fromScans(r3c279Scans),
    fromScans(l3c279Scans),
  ], []);

  const markerPath = (m: string, px: number, py: number, r: number, a: number) =>
    m === "o"
      ? `M${px + r},${py}A${r},${r} 0 1 0 ${px - r},${py}A${r},${r} 0 1 0 ${px + r},${py}`
      : `M${px - a},${py}H${px + a}M${px},${py - a}V${py + a}`;

  const font = "DejaVu Sans, sans-serif";
  const fs = 17;
  const legendX = 670.5;
  const legendY = 325;
  const rowH = 28.6;

  return (
    <div style={{ position: "absolute", left: 0, top: 0 }}>
      <svg width={W} height={H} viewBox={`0 0 ${W} ${H}`} style={{ display: "block", background: "#fff" }}>
        <defs>
          <clipPath id="plotclip">
            <rect x={margin.left} y={margin.top} width={margin.right - margin.left} height={margin.bottom - margin.top} />
          </clipPath>
        </defs>
        <rect x={0} y={0} width={W} height={H} fill="#fff" />
        <g>
          {scanEdges.map((t, i) => (
            <line key={i} x1={x(t)} x2={x(t)} y1={margin.top} y2={margin.bottom}
              stroke="#959595" strokeWidth={1} strokeDasharray="3.7 1.6" />
          ))}
        </g>
        <g clipPath="url(#plotclip)">
          {seriesPoints.map((pts, si) => (
            <path key={si}
              d={pts.map(([t, v]) => markerPath(seriesMarkers[si], x(t), y(v), 4.1, 5.0)).join("")}
              fill="none" stroke={seriesColors[si]} strokeWidth={2.7} />
          ))}
        </g>
        <rect x={margin.left} y={margin.top} width={margin.right - margin.left} height={margin.bottom - margin.top}
          fill="none" stroke="#7a7a7a" strokeWidth={1.2} />
        {yTickValues.map((v, i) => (
          <g key={i}>
            <line x1={margin.left - 4.5} x2={margin.left} y1={y(v)} y2={y(v)} stroke="#7a7a7a" strokeWidth={1} />
            <text x={margin.left - 7} y={y(v)} textAnchor="end" dominantBaseline="central"
              fontFamily={font} fontSize={fs} fill="#000">{yTickLabels[i]}</text>
          </g>
        ))}
        {xTickValues.map((v, i) => (
          <g key={i}>
            <line x1={x(v)} x2={x(v)} y1={margin.bottom} y2={margin.bottom - 3.5} stroke="#7a7a7a" strokeWidth={1} />
            <text transform={`translate(${x(v)},${589.5}) rotate(-45)`} textAnchor="middle" dominantBaseline="central"
              fontFamily={font} fontSize={fs} fill="#000">{xTickLabels[i]}</text>
          </g>
        ))}
        <text x={(margin.left + margin.right) / 2} y={25} textAnchor="middle" fontFamily={font} fontSize={fs} fill="#000">
          BR telescope (lines between scans)
        </text>
        <text x={(margin.left + margin.right) / 2} y={633} textAnchor="middle" fontFamily={font} fontSize={fs} fill="#000">
          Day/hour (Jun 03, 2013)
        </text>
        <text transform={`translate(25,${(margin.top + margin.bottom) / 2}) rotate(-90)`} textAnchor="middle"
          fontFamily={font} fontSize={19} fill="#000">
          Gain amplitude
        </text>
        <rect x={legendX} y={legendY} width={150} height={235} rx={4} fill="#fff" fillOpacity={0.8}
          stroke="#d0d0d0" strokeWidth={1} />
        {seriesNames.map((name, i) => {
          const cy = legendY + 17.7 + i * rowH;
          return (
            <g key={name}>
              <path d={markerPath(seriesMarkers[i], 694, cy, 3.6, 4.2)} fill="none" stroke={seriesColors[i]} strokeWidth={1.6} />
              <text x={726.7} y={cy} dominantBaseline="central" fontFamily={font} fontSize={fs} fill="#000">{name}</text>
            </g>
          );
        })}
      </svg>
    </div>
  );
}
